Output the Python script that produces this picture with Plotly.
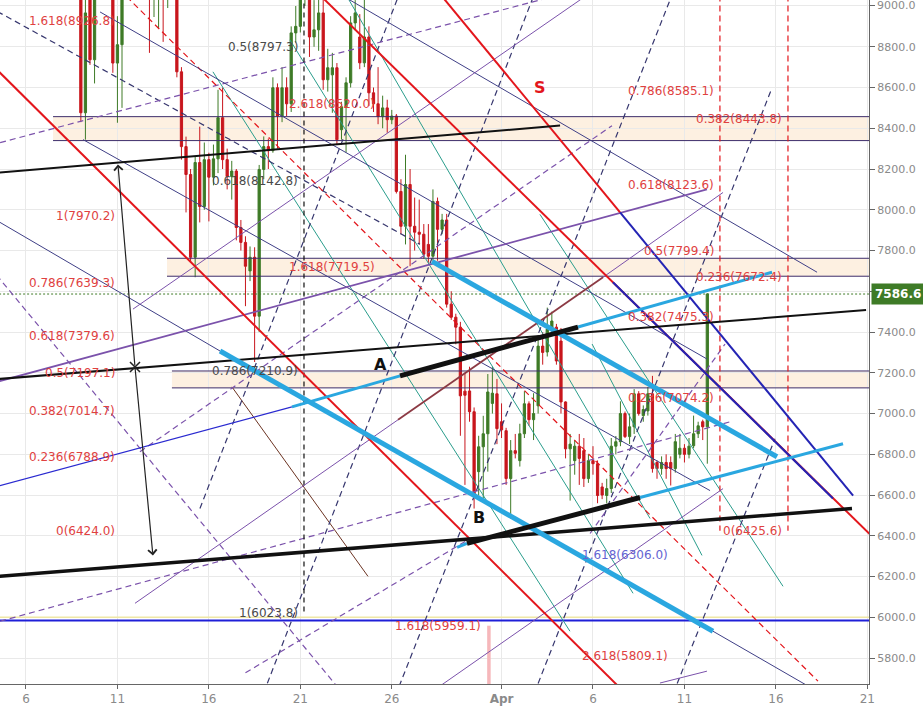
import plotly.graph_objects as go
from datetime import datetime, timedelta

BASE = datetime(2018, 3, 6)
def T(d):
    return BASE + timedelta(days=d)

# ---------------- candle data (6h candles from 2018-03-09 00:00) ----------------
candle_start = datetime(2018, 3, 9, 0)
opens = [9150, 8476, 9060, 8736, 9100, 9250, 9300, 9100, 8720, 8810,
         9120, 9300, 9420, 9550, 9350, 9200, 9100, 9180, 9220, 9100,
         9200, 9150, 8677, 8310, 8173, 7767, 8232, 8016, 8246, 8160,
         8250, 8452, 8246, 8163, 8190, 7913, 7840, 7700, 7767, 7478,
         8198, 8310, 8290, 8599, 8460, 8599, 8520, 8868, 8900, 9080,
         9100, 8848, 8883, 8966, 8638, 8662, 8697, 8393, 8506, 8623,
         8917, 8848, 8721, 8848, 8574, 8520, 8457, 8500, 8442, 8460,
         8090, 7919, 8124, 7919, 7890, 7880, 7830, 7772, 8041, 7904,
         7950, 7537, 7473, 7424, 7110, 7111, 7009, 6715, 6837, 6901,
         7050, 7097, 6960, 6916, 6681, 6818, 6769, 6901, 7048, 6970,
         7038, 7331, 7302, 7414, 7424, 7356, 7057, 6827, 6769, 6840,
         6818, 6681, 6769, 6754, 6640, 6598, 6632, 6840, 6862, 7000,
         6887, 6935, 7097, 6990, 7013, 7097, 6760, 6730, 6760, 6760,
         6730, 6800, 6830, 6800, 6842, 6901, 6960, 6935]
highs = [9300, 9100, 9120, 9200, 9350, 9420, 9380, 9150, 8950, 9200,
         9400, 9500, 9650, 9700, 9450, 9300, 9300, 9350, 9300, 9300,
         9300, 9200, 8700, 8359, 8200, 8261, 8408, 8330, 8280, 8320,
         8589, 8600, 8300, 8240, 8200, 7950, 7870, 7820, 7816, 8220,
         8360, 8350, 8650, 8620, 8700, 8650, 8900, 9000, 9150, 9200,
         9150, 9029, 9060, 9050, 8790, 8770, 8720, 8530, 8650, 8950,
         9029, 8960, 9040, 8900, 8600, 8700, 8560, 8540, 8490, 8470,
         8150, 8270, 8200, 8060, 8050, 7930, 7930, 8100, 8060, 7980,
         7980, 7600, 7490, 7450, 7200, 7230, 7030, 6891, 6989, 7194,
         7230, 7170, 7050, 6930, 6870, 6900, 6950, 7110, 7060, 7100,
         7380, 7400, 7520, 7500, 7440, 7420, 7060, 6900, 6870, 6900,
         6880, 6800, 6840, 6770, 6660, 6680, 6880, 6890, 7060, 7010,
         7000, 7120, 7110, 7040, 7130, 7185, 6770, 6790, 6800, 6790,
         6900, 6900, 6850, 6880, 6990, 6960, 6970, 7590]
lows = [8430, 8344, 8711, 8620, 9050, 9150, 9080, 8672, 8427, 8500,
        9060, 9250, 9350, 9300, 9100, 8770, 8946, 8890, 8824, 8990,
        9060, 8650, 8246, 7987, 7742, 7669, 7938, 8000, 7943, 8120,
        8180, 8200, 8100, 8050, 7850, 7800, 7527, 7650, 7253, 7400,
        8150, 8200, 8280, 8300, 8430, 8460, 8480, 8820, 8870, 9000,
        8750, 8800, 8780, 8589, 8580, 8476, 8320, 8344, 8281, 8600,
        8880, 8690, 8700, 8510, 8480, 8420, 8400, 8378, 8420, 8080,
        7880, 7830, 7723, 7800, 7830, 7760, 7740, 7750, 7750, 7880,
        7520, 7460, 7340, 6891, 6650, 6960, 6534, 6598, 6585, 6715,
        7000, 6850, 6880, 6650, 6485, 6780, 6740, 6880, 6940, 6870,
        7000, 7240, 7280, 7380, 7240, 7000, 6780, 6573, 6700, 6650,
        6640, 6660, 6700, 6560, 6580, 6560, 6610, 6800, 6840, 6880,
        6850, 6900, 6990, 6960, 6990, 6710, 6680, 6700, 6680, 6647,
        6710, 6780, 6760, 6780, 6830, 6880, 6870, 6754]
closes = [8476, 8966, 8736, 9100, 9250, 9300, 9100, 8720, 8810, 9120,
          9300, 9420, 9550, 9350, 9200, 9100, 9180, 9220, 9100, 9200,
          9150, 8677, 8310, 8173, 7767, 8232, 8016, 8246, 8160, 8250,
          8452, 8246, 8163, 8190, 7913, 7840, 7723, 7767, 7478, 8198,
          8310, 8290, 8599, 8460, 8599, 8520, 8868, 8900, 9080, 9100,
          8848, 8883, 8966, 8638, 8697, 8697, 8344, 8506, 8623, 8917,
          8966, 8721, 8848, 8574, 8520, 8457, 8500, 8442, 8460, 8090,
          7919, 8124, 7919, 7890, 7880, 7782, 7772, 8041, 7904, 7950,
          7537, 7473, 7424, 7087, 7090, 7009, 6598, 6837, 6901, 7106,
          7100, 6926, 6920, 6681, 6818, 6805, 6901, 7048, 6970, 7000,
          7331, 7300, 7414, 7454, 7258, 7057, 6827, 6850, 6840, 6780,
          6681, 6769, 6754, 6598, 6600, 6632, 6840, 6862, 7000, 6887,
          6935, 7097, 7000, 7020, 7097, 6730, 6730, 6760, 6730, 6730,
          6862, 6830, 6800, 6840, 6901, 6940, 6935, 7586.6]
times = [candle_start + timedelta(hours=6 * i) for i in range(len(opens))]
last_price = 7586.6

# ---------------- axis values ----------------
x_range_days = [-1.42, 46.09]
y_range = [5673, 9029.4]
y_ticks = list(range(5800, 9001, 200))
y_tick_text = ["" if v == 7600 else "%.1f" % v for v in y_ticks]
top_tick = 9000
x_tick_days = [0, 5, 10, 15, 20, 26, 31, 36, 41, 46]
x_tick_text = ["6", "11", "16", "21", "26", "<b>Apr</b>", "6", "11", "16", "21"]

# ---------------- drawings: (day offset from Mar 6, price) endpoints ----------------
black_heavy = [[(-3, 6190), (45.16, 6534)]]
black_mid = [[(-3, 7159), (45.93, 7508)], [(-3, 8171), (29.2, 8413)]]
black_ab = [[(20.45, 7185), (30.18, 7424.5)], [(24.11, 6363), (33.57, 6588)]]
cyan_thick = [[(10.61, 7307), (37.56, 5932)], [(22.2, 7747), (41.06, 6788)]]
cyan_mid = [[(14.54, 7033), (20.45, 7185)], [(30.18, 7424.5), (40.79, 7693.6)],
            [(33.57, 6588), (44.67, 6852)], [(23.57, 6343), (24.11, 6363)]]
blue_thin = [[(-3, 6608), (14.54, 7033)]]
red_thick = [[(-3, 8813), (33, 5607)], [(16, 9060), (46.5, 6376)], [(22.6, 9063), (32.48, 7987)]]
blue_thick = [[(32.48, 7987), (45.22, 6597.6)], [(32.09, 7644.7), (44.12, 6583)]]
red_dashed = [[(5.5, 9046), (43.3, 5687)], [(37.94, 9100), (37.94, 6425.6)],
              [(41.66, 9100), (41.66, 6425.6)]]
black_dashed = [[(15.2, 9100), (15.2, 6023.8)]]
navy_solid = [[(4.05, 8970.7), (37.23, 7267.9)], [(17.2, 9056), (43.25, 7693.6)],
              [(3.12, 8344.4), (37.4, 6622)], [(-3, 8021), (10.61, 7307)],
              [(37.56, 5932), (43.2, 5640)]]
navy_dashed = [[(9.51, 6534), (20.5, 9080)], [(13.0, 5631), (27.8, 9060)],
               [(20.2, 5616), (35.35, 9061)], [(27.8, 5630), (40.79, 8598.8)],
               [(35.4, 5630), (40.95, 6876.4)], [(-3, 9044), (21.54, 7830.6)]]
purple_mid = [[(-3, 7121.6), (37.23, 8099.7)]]
purple_thin = [[(5.96, 6069), (20.34, 6969.5)], [(31.55, 7669), (38.11, 8085)],
               [(5.85, 7512.6), (30.7, 9055)], [(22.3, 5642), (38.11, 6631.8)],
               [(34.66, 5677.7), (37.23, 5736)]]
purple_dashed = [[(-3, 8292), (28.5, 9039)], [(-3, 5942), (38.49, 6959.7)],
                 [(-3, 7830.8), (17.2, 5640)], [(6.23, 6812.9), (32.04, 8412.9)],
                 [(12.0, 5728), (24.28, 6387)], [(30.84, 6411.6), (38.22, 7341.3)]]
teal_lines = [[(10.22, 8677.1), (29.74, 5932)], [(17.4, 9070), (34.12, 6485)],
              [(14.43, 8833.7), (33.19, 6118)], [(28.1, 7977.4), (41.39, 6152.3)],
              [(30.95, 7341.3), (36.96, 6304)]]
maroon_lines = [[(20.34, 6969.5), (31.55, 7669)]]
brown_lines = [[(11.26, 7130.9), (18.7, 6201)]]
pink_bar = [[(25.31, 5959.1), (25.31, 5600)]]

zones = [(1.48, 8339.5, 8457), (7.71, 7674, 7762), (7.98, 7126, 7209)]
blue_level = 5985
yellow_level = 6000

arrow_cross = (5.96, 7228.7)
arrow_heads = [(5.03, 8222), (6.94, 6304)]

red_labels = [
    ("1.618(8926.8)", 4.98, 8926.8), ("1(7970.2)", 4.98, 7970.2),
    ("0.786(7639.3)", 4.98, 7639.3), ("0.618(7379.6)", 4.98, 7379.6),
    ("0.5(7197.1)", 4.98, 7197.1), ("0.382(7014.7)", 4.98, 7014.7),
    ("0.236(6788.9)", 4.98, 6788.9), ("0(6424.0)", 4.98, 6424.0),
    ("2.618(8520.0)", 19.19, 8520.0), ("1.618(7719.5)", 19.19, 7719.5),
    ("1.618(5959.1)", 24.99, 5959.1), ("2.618(5809.1)", 35.21, 5809.1),
    ("0.786(8585.1)", 37.73, 8585.1), ("0.618(8123.6)", 37.73, 8123.6),
    ("0.5(7799.4)", 37.73, 7799.4), ("0.382(7475.3)", 37.73, 7475.3),
    ("0.236(7074.2)", 37.73, 7074.2),
    ("0.382(8443.8)", 41.44, 8443.8), ("0.236(7672.4)", 41.44, 7672.4),
    ("0(6425.6)", 41.44, 6425.6),
]
dark_labels = [
    ("0.5(8797.3)", 15.0, 8797.3), ("0.618(8142.8)", 15.0, 8142.8),
    ("0.786(7210.9)", 15.0, 7210.9), ("1(6023.8)", 15.0, 6023.8),
]
blue_labels = [("1.618(6306.0)", 35.21, 6306.0)]
letter_labels = [("A", 19.36, 7243, "#111111"), ("B", 24.77, 6490, "#111111"),
                 ("S", 28.1, 8598, "#e3161c")]

# ---------------- figure ----------------
fig = go.Figure()

fig.add_trace(go.Candlestick(
    x=times, open=opens, high=highs, low=lows, close=closes,
    increasing=dict(line=dict(color="#3e7b27", width=1), fillcolor="#3e7b27"),
    decreasing=dict(line=dict(color="#c8161d", width=1), fillcolor="#c8161d"),
    hoverinfo="skip", showlegend=False))

def add_lines(segs, color, width, dash="solid", opacity=1.0):
    for seg in segs:
        xs = [T(p[0]) for p in seg]
        ys = [p[1] for p in seg]
        fig.add_trace(go.Scatter(x=xs, y=ys, mode="lines",
                                 line=dict(color=color, width=width, dash=dash),
                                 opacity=opacity, hoverinfo="skip", showlegend=False))

# horizontal levels
add_lines([[(-3, yellow_level), (47, yellow_level)]], "#efe7a6", 1.5)
add_lines([[(-3, blue_level), (47, blue_level)]], "#1f1fd8", 2)
add_lines([[(-3, last_price), (47, last_price)]], "#3e7b27", 1, "2px,2px")
for z in zones:
    add_lines([[(z[0], z[1]), (47, z[1])], [(z[0], z[2]), (47, z[2])]], "#3d2d6b", 1)

add_lines(pink_bar, "#f6b7bb", 3.5)
add_lines(teal_lines, "#2a9d8c", 1)
add_lines(brown_lines, "#6b3322", 1)
add_lines(navy_dashed, "#36366e", 1.2, "6px,4px")
add_lines(purple_dashed, "#7b52ab", 1.2, "6px,4px")
add_lines(red_dashed, "#e3161c", 1.2, "6px,4px")
add_lines(black_dashed, "#111111", 1.2, "5px,4px")
add_lines(navy_solid, "#3f3f86", 1)
add_lines(purple_thin, "#7b52ab", 1)
add_lines(purple_mid, "#7b52ab", 1.8)
add_lines(maroon_lines, "#8c3a44", 1.8)
add_lines(red_thick, "#e3161c", 2)
add_lines(blue_thick, "#2424b4", 2)
add_lines(blue_thin, "#2a2ad0", 1.2)
add_lines(black_mid, "#111111", 2)
add_lines(black_heavy, "#111111", 3.5)
add_lines(cyan_mid, "#2aa7e0", 3)
add_lines(cyan_thick, "#2aa7e0", 5)
add_lines(black_ab, "#111111", 5)

# arrow cross
fig.add_trace(go.Scatter(x=[T(arrow_cross[0])], y=[arrow_cross[1]], mode="markers",
                         marker=dict(symbol="x-thin", size=10,
                                     line=dict(color="#222222", width=1.5)),
                         hoverinfo="skip", showlegend=False))

shapes = []
for z in zones:
    shapes.append(dict(type="rect", xref="x", yref="y", x0=T(z[0]), x1=T(x_range_days[1]),
                       y0=z[1], y1=z[2], fillcolor="#fdf0e1", line=dict(width=0),
                       layer="below"))

annotations = []
for head in arrow_heads:
    annotations.append(dict(x=T(head[0]), y=head[1], ax=T(arrow_cross[0]), ay=arrow_cross[1],
                            xref="x", yref="y", axref="x", ayref="y", text="",
                            showarrow=True, arrowhead=4, arrowsize=1.4, arrowwidth=1.2,
                            arrowcolor="#222222"))

def add_labels(lbls, color):
    for txt, d, p in lbls:
        annotations.append(dict(x=T(d), y=p, xref="x", yref="y", text=txt,
                                showarrow=False, xanchor="right", yanchor="middle",
                                font=dict(family="DejaVu Sans", size=12, color=color)))

add_labels(red_labels, "#e0413f")
add_labels(dark_labels, "#4a4a4a")
add_labels(blue_labels, "#6464d2")
for txt, d, p, c in letter_labels:
    annotations.append(dict(x=T(d), y=p, xref="x", yref="y", text="<b>%s</b>" % txt,
                            showarrow=False, font=dict(family="DejaVu Sans", size=16, color=c)))

annotations.append(dict(x=1, xref="paper", y=last_price, yref="y", xanchor="left",
                        xshift=2, text="<b>%.1f</b>" % last_price, showarrow=False,
                        bgcolor="#3e7b27", borderpad=3,
                        font=dict(family="DejaVu Sans", size=12, color="white")))
# top tick label (plotly drops it at the very edge)
annotations.append(dict(x=1, xref="paper", y=top_tick, yref="y", xanchor="left",
                        xshift=6, yanchor="middle", text="%.1f" % top_tick, showarrow=False,
                        font=dict(family="DejaVu Sans", size=11, color="#8a8a8a")))

fig.update_layout(
    width=923, height=706,
    margin=dict(l=0, r=54, t=0, b=20),
    paper_bgcolor="white", plot_bgcolor="white",
    shapes=shapes, annotations=annotations, showlegend=False,
    xaxis=dict(type="date", range=[T(x_range_days[0]), T(x_range_days[1])],
               rangeslider=dict(visible=False),
               tickvals=[T(d) for d in x_tick_days], ticktext=x_tick_text,
               showgrid=True, gridcolor="#e9e9e9", gridwidth=1,
               showline=True, linecolor="#666666", linewidth=1,
               ticks="outside", ticklen=4, tickcolor="#666666",
               tickfont=dict(family="DejaVu Sans", size=12, color="#8a8a8a"),
               zeroline=False, fixedrange=True),
    yaxis=dict(side="right", range=y_range, tickvals=y_ticks, ticktext=y_tick_text,
               showgrid=True, gridcolor="#e9e9e9", gridwidth=1,
               showline=True, linecolor="#666666", linewidth=1,
               ticks="outside", ticklen=5, tickcolor="#666666",
               tickfont=dict(family="DejaVu Sans", size=11, color="#8a8a8a"),
               zeroline=False, fixedrange=True),
)

fig.write_html("out.html", config={"displayModeBar": False},
               post_script="document.body.style.margin='0';document.body.style.overflow='hidden';")
